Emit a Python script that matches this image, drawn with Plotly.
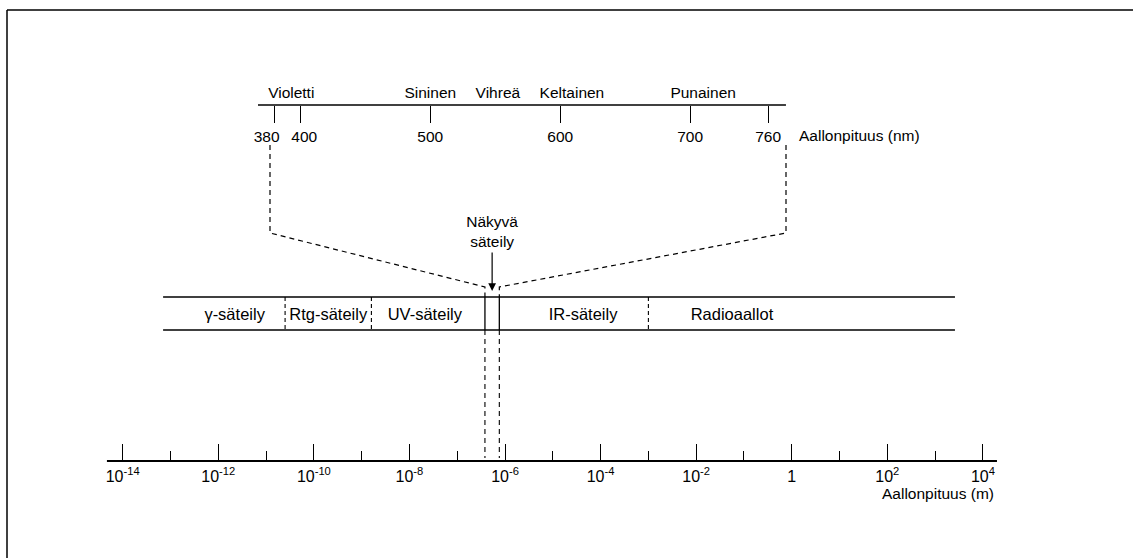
import math
import plotly.graph_objects as go

W, H = 1133, 558
FONT = "Liberation Sans, Arial, Helvetica, sans-serif"
EN = "\u2002"  # en space, nudges the crowded 380/400 labels apart

# --- visible-light scale (nm) ---
nm_ticks = [380, 400, 500, 600, 700, 760]
nm_tick_text = ["380" + EN * 2, EN + "400", "500", "600", "700", "760"]
colour_names = ["Violetti", "Sininen", "Vihreä", "Keltainen", "Punainen"]
colour_nm = [393, 500, 552, 609, 710]
nm_line_span = [367.4, 773.7]

# --- full spectrum (m) ---
m_major = [1e-14, 1e-12, 1e-10, 1e-8, 1e-6, 1e-4, 1e-2, 1, 1e2, 1e4]
m_major_text = ["10<sup>-14</sup>", "10<sup>-12</sup>", "10<sup>-10</sup>", "10<sup>-8</sup>",
                "10<sup>-6</sup>", "10<sup>-4</sup>", "10<sup>-2</sup>", "1",
                "10<sup>2</sup>", "10<sup>4</sup>"]
m_minor = [1e-13, 1e-11, 1e-9, 1e-7, 1e-5, 1e-3, 1e-1, 1e1, 1e3]
m_axis_span = [10 ** -14.33, 10 ** 4.294]

band_names = ["γ-säteily", "Rtg-säteily", "UV-säteily", "IR-säteily", "Radioaallot"]
band_label_m = [2.2e-12, 2.0e-10, 2.1e-8, 4.3e-5, 5.6e-2]
band_span_m = [7.0e-14, 2.6e3]
dashed_edges_m = [2.5e-11, 1.6e-9, 1e-3]
visible_m = [3.8e-7, 7.6e-7]

# axis scales: nm axis linear, m axis log (decades)
NM_PX0, NM_PX_PER_NM = -219.4, 1.2994
nm_range = [(0 - NM_PX0) / NM_PX_PER_NM, (W - NM_PX0) / NM_PX_PER_NM]
DEC0_PX, PX_PER_DEC = 122.7, 47.79
log_range = [-14 - DEC0_PX / PX_PER_DEC, -14 + (W - DEC0_PX) / PX_PER_DEC]

# vertical layout (pixels from top)
Y_TOP_LINE = 105
Y_NAMES = 94
Y_BAND_TOP, Y_BAND_BOT = 297, 330
Y_AXIS = 461


def px(xp):
    return xp / W


def py(yp):
    return 1 - yp / H


def paper_from_m(m):
    return (math.log10(m) - log_range[0]) / (log_range[1] - log_range[0])


fig = go.Figure()
line_black = dict(color="black", width=1.5)

# nm scale baseline + colour names
fig.add_trace(go.Scatter(x=nm_line_span, y=[Y_TOP_LINE] * 2, mode="lines",
                         line=line_black, xaxis="x", yaxis="y", hoverinfo="skip"))
fig.add_trace(go.Scatter(x=colour_nm, y=[Y_NAMES] * len(colour_nm), mode="text",
                         text=colour_names, textposition="middle center",
                         textfont=dict(family=FONT, size=15.5, color="black"),
                         xaxis="x", yaxis="y", hoverinfo="skip"))

# spectrum band
for yb in (Y_BAND_TOP, Y_BAND_BOT):
    fig.add_trace(go.Scatter(x=band_span_m, y=[yb, yb], mode="lines", line=line_black,
                             xaxis="x2", yaxis="y", hoverinfo="skip"))
for e in dashed_edges_m:
    fig.add_trace(go.Scatter(x=[e, e], y=[Y_BAND_TOP, Y_BAND_BOT], mode="lines",
                             line=dict(color="black", width=1.1, dash="4px,3px"),
                             xaxis="x2", yaxis="y", hoverinfo="skip"))
for v in visible_m:
    fig.add_trace(go.Scatter(x=[v, v], y=[Y_BAND_TOP, Y_BAND_BOT], mode="lines",
                             line=dict(color="black", width=1.3),
                             xaxis="x2", yaxis="y", hoverinfo="skip"))
    fig.add_trace(go.Scatter(x=[v, v], y=[Y_BAND_BOT, Y_AXIS - 3], mode="lines",
                             line=dict(color="black", width=1.1, dash="5px,4px"),
                             xaxis="x2", yaxis="y", hoverinfo="skip"))
fig.add_trace(go.Scatter(x=band_label_m, y=[316] * len(band_label_m), mode="text",
                         text=band_names, textposition="middle center",
                         textfont=dict(family=FONT, size=16.5, color="black"),
                         xaxis="x2", yaxis="y", hoverinfo="skip"))

# bottom axis baseline
fig.add_trace(go.Scatter(x=m_axis_span, y=[Y_AXIS] * 2, mode="lines",
                         line=dict(color="black", width=1.8),
                         xaxis="x2", yaxis="y", hoverinfo="skip"))

# visible-light label and arrow
vis_mid = math.sqrt(visible_m[0] * visible_m[1])
fig.add_trace(go.Scatter(x=[vis_mid], y=[233], mode="text", text=["Näkyvä<br>säteily"],
                         textposition="middle center",
                         textfont=dict(family=FONT, size=15.5, color="black"),
                         xaxis="x2", yaxis="y", hoverinfo="skip"))
fig.add_annotation(x=math.log10(vis_mid), y=py(291), xref="x2", yref="paper",
                   ax=0, ay=-40, text="", showarrow=True, arrowhead=2,
                   arrowsize=1.3, arrowwidth=1.2, arrowcolor="black")

# connectors from nm scale down to the visible strip
dash = dict(color="black", width=1.2, dash="5px,4px")
for x_top, v in ((270, visible_m[0]), (786, visible_m[1])):
    xb = paper_from_m(v)
    path = (f"M {px(x_top)} {py(145)} L {px(x_top)} {py(233)} "
            f"L {xb} {py(287)} L {xb} {py(Y_BAND_TOP)}")
    fig.add_shape(type="path", path=path, xref="paper", yref="paper", line=dash)

# frame
fig.add_shape(type="line", x0=px(7), x1=1, y0=py(10), y1=py(10), xref="paper",
              yref="paper", line=dict(color="black", width=1.5))
fig.add_shape(type="line", x0=px(7), x1=px(7), y0=py(10), y1=0, xref="paper",
              yref="paper", line=dict(color="black", width=1.5))

# axis titles
fig.add_annotation(x=px(797), y=py(135), xref="paper", yref="paper", xanchor="left",
                   yanchor="middle", text="Aallonpituus (nm)", showarrow=False,
                   font=dict(family=FONT, size=15.5, color="black"))
fig.add_annotation(x=px(996), y=py(493), xref="paper", yref="paper", xanchor="right",
                   yanchor="middle", text="Aallonpituus (m)", showarrow=False,
                   font=dict(family=FONT, size=15.5, color="black"))

tickfont = dict(family=FONT, size=15.5, color="black")
fig.update_layout(
    width=W, height=H, margin=dict(l=0, r=0, t=0, b=0),
    paper_bgcolor="white", plot_bgcolor="white", showlegend=False,
    xaxis=dict(domain=[0, 1], range=nm_range, anchor="free", position=py(Y_TOP_LINE),
               showline=False, showgrid=False, zeroline=False,
               tickmode="array", tickvals=nm_ticks, ticktext=nm_tick_text,
               ticks="outside", ticklen=17, ticklabelstandoff=0,
               tickwidth=1.3, tickcolor="black", tickfont=tickfont, tickangle=0,
               fixedrange=True),
    xaxis2=dict(domain=[0, 1], type="log", range=log_range, overlaying="x",
                anchor="free", position=py(Y_AXIS), side="bottom",
                showline=False, showgrid=False, zeroline=False,
                tickmode="array", tickvals=m_major, ticktext=m_major_text,
                ticks="inside", ticklen=17, tickwidth=1.3, tickcolor="black",
                tickfont=dict(family=FONT, size=16, color="black"), tickangle=0,
                ticklabelstandoff=4,
                minor=dict(tickmode="array", tickvals=m_minor, ticks="inside",
                           ticklen=10, tickwidth=1.3, tickcolor="black", showgrid=False),
                fixedrange=True),
    yaxis=dict(domain=[0, 1], range=[H, 0], visible=False, fixedrange=True),
)

fig.write_html("out.html")
